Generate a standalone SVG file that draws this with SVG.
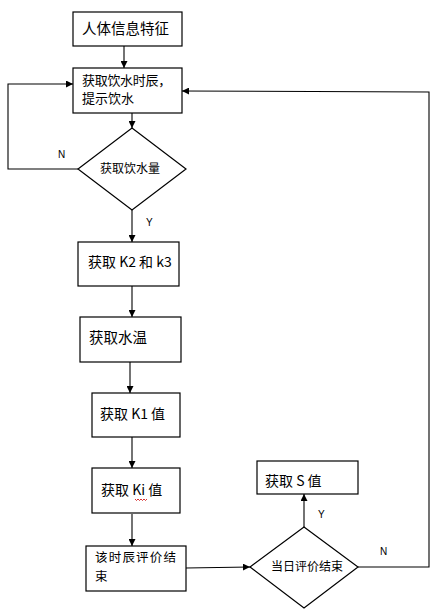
<svg xmlns="http://www.w3.org/2000/svg" width="440" height="615" viewBox="0 0 440 615">
<defs>
<marker id="ah" viewBox="0 0 10 10" refX="10" refY="5" markerWidth="7" markerHeight="7" markerUnits="userSpaceOnUse" orient="auto">
<path d="M0,0 L10,5 L0,10 z" fill="#000"/>
</marker>
<style>
.box{fill:#fff;stroke:#000;stroke-width:1.2}
.t{font-family:"Noto Sans CJK SC","Liberation Sans",sans-serif;font-size:14px;fill:#000}
.ts{font-family:"Noto Sans CJK SC","Liberation Sans",sans-serif;font-size:12px;fill:#000}
.lbl{font-family:"Liberation Sans",Arial,sans-serif;font-size:10px;fill:#000}
.c{fill:none;stroke:#000;stroke-width:1.1}
</style>
</defs>
<rect width="440" height="615" fill="#fff"/>
<g id="connectors">
<line class="c" x1="124" y1="46" x2="124" y2="68" marker-end="url(#ah)"/>
<polyline class="c" points="78,169 8,169 8,84 73,84" marker-end="url(#ah)"/>
<line class="c" x1="132" y1="113" x2="132" y2="128" marker-end="url(#ah)"/>
<line class="c" x1="132" y1="210" x2="132" y2="242" marker-end="url(#ah)"/>
<line class="c" x1="132" y1="286" x2="132" y2="317" marker-end="url(#ah)"/>
<line class="c" x1="130" y1="362" x2="130" y2="393" marker-end="url(#ah)"/>
<line class="c" x1="132" y1="437" x2="132" y2="468" marker-end="url(#ah)"/>
<line class="c" x1="132" y1="514" x2="132" y2="546" marker-end="url(#ah)"/>
<line class="c" x1="186" y1="568" x2="250" y2="567" marker-end="url(#ah)"/>
<line class="c" x1="304" y1="527" x2="304" y2="494" marker-end="url(#ah)"/>
<polyline class="c" points="358,567 429,567 429,92 182,91" marker-end="url(#ah)"/>
<text class="lbl" x="58" y="158">N</text>
<text class="lbl" x="146" y="226">Y</text>
<text class="lbl" x="318" y="518">Y</text>
<text class="lbl" x="380" y="555">N</text>
</g>
<g id="n1">
<rect class="box" x="73" y="12" width="109" height="34"/>
<text class="t" x="82" y="34" style="font-size:14.5px">人体信息特征</text>
</g>
<g id="n2">
<rect class="box" x="73" y="68" width="109" height="45"/>
<text class="ts" x="82" y="85" style="font-size:13px;letter-spacing:-0.3px">获取饮水时辰，</text>
<text class="ts" x="82" y="103" style="font-size:13px">提示饮水</text>
</g>
<g id="n3">
<polygon class="box" points="132,128 186,169 132,210 78,169"/>
<text class="ts" x="130" y="173" text-anchor="middle">获取饮水量</text>
</g>
<g id="n4">
<rect class="box" x="78" y="242" width="101" height="44"/>
<text class="t" x="88" y="267">获取 K2 和 k3</text>
</g>
<g id="n5">
<rect class="box" x="80" y="317" width="101" height="45"/>
<text class="t" x="89" y="343" style="font-size:14.5px">获取水温</text>
</g>
<g id="n6">
<rect class="box" x="92" y="393" width="88" height="44"/>
<text class="t" x="100" y="419">获取 K1 值</text>
</g>
<g id="n7">
<rect class="box" x="92" y="468" width="88" height="45"/>
<text class="t" x="101" y="495">获取 Ki 值</text>
<path d="M135,499 l1.5,1.5 l1.5,-1.5 l1.5,1.5 l1.5,-1.5 l1.5,1.5 l1.5,-1.5 l1.5,1.5 l1.5,-1.5" fill="none" stroke="#c00" stroke-width="0.8"/>
</g>
<g id="n8">
<rect class="box" x="86" y="546" width="100" height="45"/>
<text class="ts" x="95" y="562" style="font-size:12.5px;letter-spacing:1.2px">该时辰评价结</text>
<text class="ts" x="95" y="581" style="font-size:12.5px">束</text>
</g>
<g id="n9">
<polygon class="box" points="304,527 358,567 304,608 250,567"/>
<text class="ts" x="307" y="571" text-anchor="middle">当日评价结束</text>
</g>
<g id="n10">
<rect class="box" x="257" y="461" width="101" height="33"/>
<text class="t" x="265" y="486">获取 S 值</text>
</g>
</svg>
